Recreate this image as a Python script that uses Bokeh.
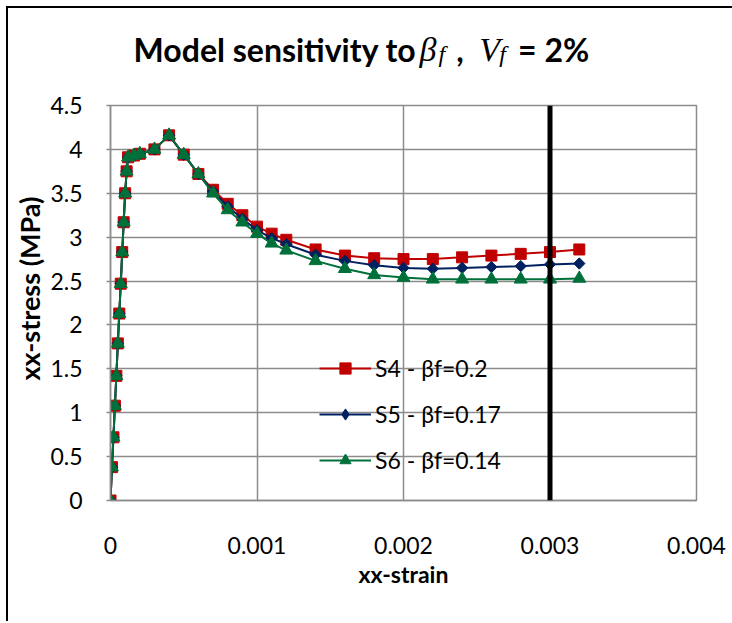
import math
from bokeh.plotting import figure
from bokeh.layouts import column
from bokeh.models import (Legend, LegendItem, FixedTicker, Span, Title,
                          CustomJSTickFormatter, Range1d)
from bokeh.core.properties import value
from bokeh.embed import file_html
from bokeh.resources import INLINE

# ---------------- data ----------------
strain = [0.0, 0.00001, 0.00002, 0.00003, 0.00004, 0.00005, 0.00006, 0.00007,
          0.00008, 0.00009, 0.0001, 0.00011, 0.00012, 0.00016, 0.0002, 0.0003,
          0.0004, 0.0005, 0.0006, 0.0007, 0.0008, 0.0009, 0.001, 0.0011,
          0.0012, 0.0014, 0.0016, 0.0018, 0.002, 0.0022, 0.0024, 0.0026,
          0.0028, 0.003, 0.0032]
s4_stress = [0.0, 0.38, 0.72, 1.08, 1.42, 1.79, 2.13, 2.47, 2.83, 3.17, 3.50,
             3.75, 3.91, 3.93, 3.95, 4.00, 4.16, 3.94, 3.72, 3.54, 3.38, 3.25,
             3.12, 3.04, 2.97, 2.86, 2.79, 2.76, 2.75, 2.75, 2.77, 2.79, 2.81,
             2.83, 2.86]
s5_stress = [0.0, 0.38, 0.72, 1.08, 1.42, 1.79, 2.13, 2.47, 2.83, 3.17, 3.50,
             3.75, 3.91, 3.93, 3.95, 4.00, 4.16, 3.94, 3.72, 3.52, 3.35, 3.21,
             3.08, 2.99, 2.92, 2.80, 2.73, 2.68, 2.65, 2.64, 2.65, 2.66, 2.67,
             2.69, 2.70]
s6_stress = [0.0, 0.38, 0.72, 1.08, 1.42, 1.79, 2.13, 2.47, 2.83, 3.17, 3.50,
             3.75, 3.91, 3.93, 3.95, 4.00, 4.16, 3.94, 3.72, 3.50, 3.31, 3.17,
             3.04, 2.93, 2.85, 2.73, 2.64, 2.57, 2.54, 2.52, 2.52, 2.52, 2.52,
             2.52, 2.53]
series_names = ["S4 - \u03b2f=0.2", "S5 - \u03b2f=0.17", "S6 - \u03b2f=0.14"]
x_ticks = [0.0, 0.001, 0.002, 0.003, 0.004]
x_tick_labels = ["0", "0.001", "0.002", "0.003", "0.004"]
y_ticks = [0.0, 0.5, 1.0, 1.5, 2.0, 2.5, 3.0, 3.5, 4.0, 4.5]
y_tick_labels = ["0", "0.5", "1", "1.5", "2", "2.5", "3", "3.5", "4", "4.5"]
limit_strain = 0.003
x_title = "xx-strain"
y_title = "xx-stress (MPa)"
title_parts = ["Model sensitivity to", "\u03b2", "f", ",", "V", "f", "= 2%"]

# ---------------- styles ----------------
GRID = "#8c8c8c"
RED = "#C00000"
NAVY = "#002060"
GREEN = "#00703A"
SANS = "Lato"
SERIF = "Liberation Serif"
BL, BR = 100, 36          # shared left / right borders (frames aligned)

# ---------------- title strip (page-pixel coordinates) ----------------
TH = 80
t = figure(width=724, height=TH, x_range=Range1d(8 + BL, 732 - BR),
           y_range=Range1d(8 + TH, 8), output_backend="svg",
           toolbar_location=None, x_axis_type=None, y_axis_type=None,
           min_border_left=BL, min_border_right=BR, min_border_top=0,
           min_border_bottom=0)
t.grid.visible = False
t.outline_line_color = None
t.background_fill_color = "white"
t.border_fill_color = "white"

# (anchor x, baseline y, align, font, size, style) for each title piece
title_layout = [(415, 49, "right", SANS, 32, "bold"),
                (418, 49, "left", SERIF, 34, "italic"),
                (437, 53, "left", SERIF, 24, "italic"),
                (455, 49, "left", SANS, 32, "bold"),
                (478, 49, "left", SERIF, 34, "italic"),
                (498, 53, "left", SERIF, 24, "italic"),
                (517, 49, "left", SANS, 32, "bold")]
for txt, (tx, ty, al, fnt, fs, st) in zip(title_parts, title_layout):
    t.text(x=[tx], y=[ty], text=[txt], text_font=value(fnt),
           text_font_size=f"{fs}px", text_font_style=st,
           text_baseline="alphabetic", text_align=al, text_color="black")

# ---------------- main chart ----------------
p = figure(width=724, height=533, x_range=(0, 0.004), y_range=(0, 4.5),
           output_backend="svg", toolbar_location=None,
           min_border_left=BL, min_border_right=BR,
           min_border_top=17, min_border_bottom=121)
p.background_fill_color = "white"
p.border_fill_color = "white"
p.outline_line_color = GRID
p.outline_line_width = 1.5

p.xaxis.ticker = FixedTicker(ticks=x_ticks)
p.yaxis.ticker = FixedTicker(ticks=y_ticks)
p.xaxis.formatter = CustomJSTickFormatter(args=dict(labels=x_tick_labels),
                                          code="return labels[index]")
p.yaxis.formatter = CustomJSTickFormatter(args=dict(labels=y_tick_labels),
                                          code="return labels[index]")
for ax in (p.xaxis[0], p.yaxis[0]):
    ax.axis_line_color = GRID
    ax.axis_line_width = 1.5
    ax.major_tick_line_color = GRID
    ax.major_tick_line_width = 1.5
    ax.minor_tick_line_color = None
    ax.major_label_text_font = SANS
    ax.major_label_text_font_size = "23px"
    ax.major_label_text_color = "black"
p.xaxis.major_tick_in = 0
p.xaxis.major_tick_out = 0
p.yaxis.major_tick_in = 0
p.yaxis.major_tick_out = 4
p.yaxis.major_label_standoff = 24
p.xaxis.major_label_standoff = 36

p.xaxis.axis_label = x_title
p.xaxis.axis_label_text_font = SANS
p.xaxis.axis_label_text_font_size = "23px"
p.xaxis.axis_label_text_font_style = "bold"
p.xaxis.axis_label_text_color = "black"
p.xaxis.axis_label_standoff = 3

p.add_layout(Title(text=y_title, align="left", offset=120, standoff=4,
                   text_font=SANS, text_font_size="27px",
                   text_font_style="bold", text_color="black"), "left")

p.xgrid.grid_line_color = GRID
p.ygrid.grid_line_color = GRID
p.xgrid.grid_line_width = 1.5
p.ygrid.grid_line_width = 1.5

l4 = p.line(strain, s4_stress, line_color=RED, line_width=2)
m4 = p.scatter(strain, s4_stress, marker="square", size=11,
               fill_color=RED, line_color=RED)
l5 = p.line(strain, s5_stress, line_color=NAVY, line_width=2)
m5 = p.scatter(strain, s5_stress, marker="square", angle=math.pi / 4, size=8,
               fill_color=NAVY, line_color=NAVY)
# legend key only (not positioned in the data area)
k5 = p.scatter([float("nan")], [float("nan")], marker="diamond", size=12,
               fill_color=NAVY, line_color=NAVY)
l6 = p.line(strain, s6_stress, line_color=GREEN, line_width=2)
m6 = p.scatter(strain, s6_stress, marker="triangle", size=13,
               fill_color=GREEN, line_color=GREEN)

p.add_layout(Span(location=limit_strain, dimension="height",
                  line_color="black", line_width=5))

legend = Legend(items=[LegendItem(label=series_names[0], renderers=[l4, m4]),
                       LegendItem(label=series_names[1], renderers=[l5, k5]),
                       LegendItem(label=series_names[2], renderers=[l6, m6])],
                location=(209, 17), background_fill_alpha=0,
                border_line_alpha=0, glyph_width=52, glyph_height=28,
                label_height=46, spacing=0, padding=0, margin=0,
                label_standoff=4, label_text_font=SANS,
                label_text_font_size="23px", label_text_color="black")
p.add_layout(legend)

page = column(t, p, spacing=0,
              styles={"margin-left": "6px", "margin-top": "6px",
                      "border-left": "2px solid black",
                      "border-top": "2px solid black"})

open("out.html", "w").write(file_html(page, INLINE))
